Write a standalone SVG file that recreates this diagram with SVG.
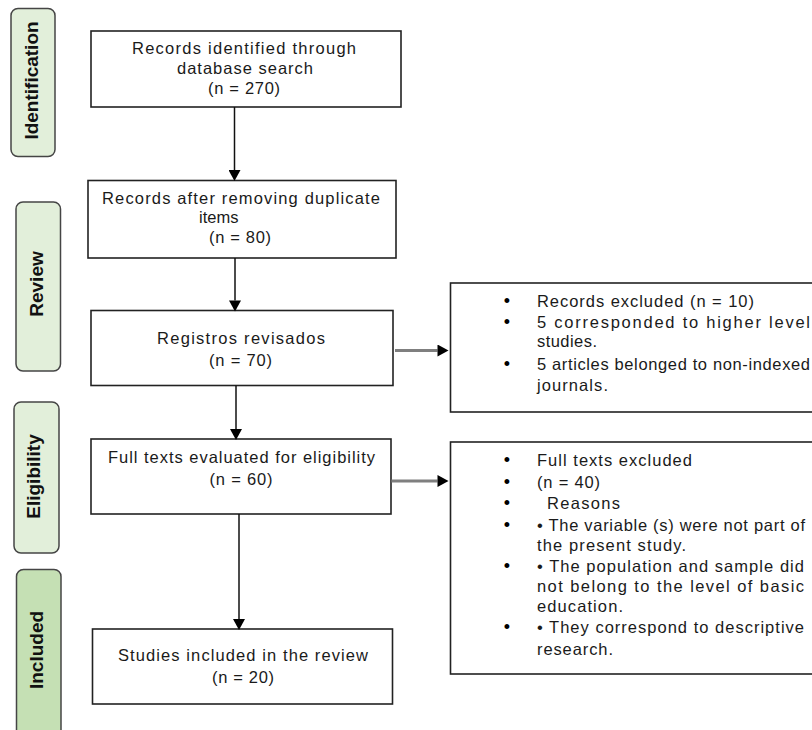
<svg xmlns="http://www.w3.org/2000/svg" width="812" height="730" viewBox="0 0 812 730">
  <style>
    .box { fill: #ffffff; stroke: #222222; stroke-width: 1.6; }
    .lbl { fill: #e2efda; stroke: #454545; stroke-width: 1.5; }
    .lbl-inc { fill: #c5e0b4; stroke: #454545; stroke-width: 1.5; }
    .t { font-family: "Liberation Sans", Arial, sans-serif; font-size: 16.5px; fill: #1a1a1a; }
    .b { font-family: "Liberation Sans", Arial, sans-serif; font-size: 18px; fill: #000000; }
    .lt { font-family: "Liberation Sans", Arial, sans-serif; font-size: 19px; font-weight: bold; fill: #111111; }
    .down { stroke: #111111; stroke-width: 1.5; fill: none; }
    .side { stroke: #7f7f7f; stroke-width: 3; fill: none; }
  </style>
  <defs>
    <marker id="ah" markerUnits="userSpaceOnUse" markerWidth="12" markerHeight="12" viewBox="0 0 11 12" refX="0" refY="6" orient="auto">
      <path d="M0,0 L11,6 L0,12 Z" fill="#000000"/>
    </marker>
  </defs>

  <rect width="812" height="730" fill="#ffffff"/>

  <!-- Phase labels -->
  <g id="label-identification">
    <rect class="lbl" x="11" y="8.5" width="44" height="148" rx="7"/>
    <text class="lt" transform="translate(37.5,80.5) rotate(-90)" text-anchor="middle">Identification</text>
  </g>
  <g id="label-review">
    <rect class="lbl" x="16" y="202" width="44.5" height="169" rx="7"/>
    <text class="lt" transform="translate(42.5,284) rotate(-90)" text-anchor="middle">Review</text>
  </g>
  <g id="label-eligibility">
    <rect class="lbl" x="14" y="402" width="45" height="151" rx="7"/>
    <text class="lt" transform="translate(40,476.5) rotate(-90)" text-anchor="middle">Eligibility</text>
  </g>
  <g id="label-included">
    <rect class="lbl-inc" x="16.5" y="569.5" width="44.5" height="175" rx="7"/>
    <text class="lt" transform="translate(42.5,650) rotate(-90)" text-anchor="middle">Included</text>
  </g>

  <!-- Main flow boxes -->
  <g id="node-identified">
    <rect class="box" x="91" y="31" width="310" height="76"/>
    <text class="t" x="132" y="54" textLength="224">Records identified through</text>
    <text class="t" x="177" y="74" textLength="136">database search</text>
    <text class="t" x="208" y="94" textLength="72">(n = 270)</text>
  </g>
  <g id="node-duplicates">
    <rect class="box" x="88" y="180.5" width="308" height="77.5"/>
    <text class="t" x="102" y="204" textLength="278">Records after removing duplicate</text>
    <text class="t" x="199" y="223">items</text>
    <text class="t" x="209" y="243" textLength="62">(n = 80)</text>
  </g>
  <g id="node-reviewed">
    <rect class="box" x="91" y="310.5" width="302" height="75"/>
    <text class="t" x="157" y="344" textLength="168">Registros revisados</text>
    <text class="t" x="209" y="365.5" textLength="63">(n = 70)</text>
  </g>
  <g id="node-fulltext">
    <rect class="box" x="91" y="439" width="300" height="75"/>
    <text class="t" x="108" y="462.5" textLength="267">Full texts evaluated for eligibility</text>
    <text class="t" x="209.5" y="485" textLength="63">(n = 60)</text>
  </g>
  <g id="node-included">
    <rect class="box" x="92.5" y="629" width="300" height="75"/>
    <text class="t" x="118" y="660.5" textLength="250">Studies included in the review</text>
    <text class="t" x="212" y="683" textLength="62">(n = 20)</text>
  </g>

  <!-- Exclusion boxes -->
  <g id="node-excluded-records">
    <rect class="box" x="450.5" y="283" width="380" height="129"/>
    <text class="b" x="507" y="307" text-anchor="middle">•</text>
    <text class="t" x="537" y="307" textLength="217">Records excluded (n = 10)</text>
    <text class="b" x="507" y="328" text-anchor="middle">•</text>
    <text class="t" x="537" y="328" textLength="273">5 corresponded to higher level</text>
    <text class="t" x="537" y="347" textLength="60">studies.</text>
    <text class="b" x="507" y="370" text-anchor="middle">•</text>
    <text class="t" x="537" y="370" textLength="273">5 articles belonged to non-indexed</text>
    <text class="t" x="537" y="391" textLength="71">journals.</text>
  </g>
  <g id="node-excluded-fulltexts">
    <rect class="box" x="450.5" y="442" width="380" height="232"/>
    <text class="b" x="507" y="466" text-anchor="middle">•</text>
    <text class="t" x="537" y="466" textLength="155">Full texts excluded</text>
    <text class="b" x="507" y="487.5" text-anchor="middle">•</text>
    <text class="t" x="537" y="487.5" textLength="63">(n = 40)</text>
    <text class="b" x="507" y="509" text-anchor="middle">•</text>
    <text class="t" x="547" y="509" textLength="73">Reasons</text>
    <text class="b" x="507" y="531" text-anchor="middle">•</text>
    <text class="t" x="537" y="531" textLength="268">• The variable (s) were not part of</text>
    <text class="t" x="537" y="550.5" textLength="149">the present study.</text>
    <text class="b" x="507" y="572" text-anchor="middle">•</text>
    <text class="t" x="537" y="572" textLength="267">• The population and sample did</text>
    <text class="t" x="537" y="592" textLength="267">not belong to the level of basic</text>
    <text class="t" x="537" y="612" textLength="86">education.</text>
    <text class="b" x="507" y="633" text-anchor="middle">•</text>
    <text class="t" x="537" y="633" textLength="267">• They correspond to descriptive</text>
    <text class="t" x="537" y="655" textLength="76">research.</text>
  </g>

  <!-- Connectors -->
  <g id="connectors">
    <line class="down" x1="234.5" y1="107" x2="234.5" y2="170" marker-end="url(#ah)"/>
    <line class="down" x1="235" y1="258" x2="235" y2="300.5" marker-end="url(#ah)"/>
    <line class="down" x1="236" y1="385.5" x2="236" y2="429" marker-end="url(#ah)"/>
    <line class="down" x1="239" y1="514" x2="239" y2="619" marker-end="url(#ah)"/>
    <line class="side" x1="395" y1="350.5" x2="437.5" y2="350.5" marker-end="url(#ah)"/>
    <line class="side" x1="391.5" y1="481" x2="437.5" y2="481" marker-end="url(#ah)"/>
  </g>
</svg>
